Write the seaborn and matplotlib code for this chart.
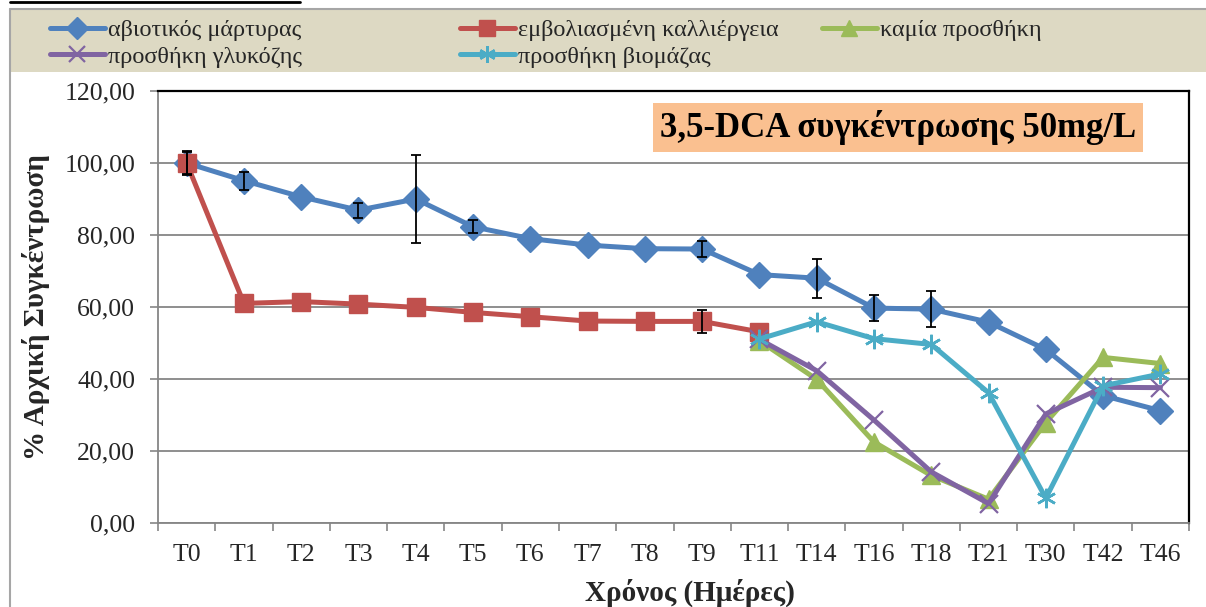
import numpy as np
import pandas as pd
import matplotlib
matplotlib.use("Agg")
import matplotlib.pyplot as plt
import seaborn as sns
from matplotlib.patches import Rectangle
from matplotlib.lines import Line2D
from matplotlib.ticker import FixedLocator, FuncFormatter
from matplotlib.font_manager import FontProperties

# ---- data -------------------------------------------------------------
times = ["T0", "T1", "T2", "T3", "T4", "T5", "T6", "T7", "T8", "T9",
         "T11", "T14", "T16", "T18", "T21", "T30", "T42", "T46"]

abiotic = [100.0, 95.1, 90.6, 86.9, 90.0, 82.3, 79.0, 77.2, 76.2, 76.1,
           69.0, 68.0, 59.7, 59.4, 55.8, 48.2, 35.4, 31.2]
abiotic_err = [3.4, 2.5, 0, 2.1, 12.3, 1.8, 0, 0, 0, 2.3,
               0, 5.4, 3.5, 5.0, 0, 0, 0, 0]

inoculated = [100.0, 61.0, 61.5, 60.8, 59.9, 58.5, 57.3, 56.1, 56.0, 56.0,
              53.1, None, None, None, None, None, None, None]
inoculated_err = [3.0, 0, 0, 0, 0, 0, 0, 0, 0, 3.2,
                  0, 0, 0, 0, 0, 0, 0, 0]

no_addition = [None] * 10 + [50.6, 39.9, 22.5, 13.2, 6.6, 27.9, 46.0, 44.3]
glucose = [None] * 10 + [51.0, 42.3, 28.6, 14.2, 5.4, 30.3, 37.7, 37.6]
biomass = [None] * 10 + [51.1, 55.9, 51.2, 49.6, 36.2, 6.9, 38.1, 41.4]

labels = ["αβιοτικός μάρτυρας", "εμβολιασμένη καλλιέργεια", "καμία προσθήκη",
          "προσθήκη γλυκόζης", "προσθήκη βιομάζας"]
colors = ["#4F81BD", "#C0504D", "#9BBB59", "#8064A2", "#4BACC6"]

# ---- style ------------------------------------------------------------
sns.set_theme(style="white")
serif = ["Liberation Serif", "DejaVu Serif"]
plt.rcParams["font.family"] = serif

W, H = 1206, 607
fig = plt.figure(figsize=(W / 100, H / 100), dpi=100)
ax = fig.add_axes([158 / W, 1 - 523 / H, (1189 - 158) / W, (523 - 91) / H])

pos = np.arange(len(times))
series = [abiotic, inoculated, no_addition, glucose, biomass]
markers = ["D", "s", "^", "x", (6, 2, 0)]
msizes = [13, 13, 13, 13, 14]
medge = [1.0, 1.0, 1.0, 1.6, 1.8]

for vals, col, mk, ms, mew in zip(series, colors, markers, msizes, medge):
    df = pd.DataFrame({"pos": pos, "value": pd.to_numeric(pd.Series(vals), errors="coerce")}).dropna()
    sns.lineplot(data=df, x="pos", y="value", color=col, marker=mk, markersize=ms,
                 markeredgecolor=col, markeredgewidth=mew, linewidth=3.6,
                 sort=False, legend=False, ax=ax, zorder=3)

# error bars of the two reference series
for vals, errs in [(abiotic, abiotic_err), (inoculated, inoculated_err)]:
    idx = [i for i, e in enumerate(errs) if e and vals[i] is not None]
    ax.errorbar([pos[i] for i in idx], [vals[i] for i in idx],
                yerr=[errs[i] for i in idx], fmt="none", ecolor="black",
                elinewidth=1.3, capsize=3.8, capthick=1.3, zorder=5)

# ---- axes -------------------------------------------------------------
ax.set_xlim(-0.5, len(times) - 0.5)
ax.set_ylim(0, 120)
ax.set_yticks(np.arange(0, 121, 20))
ax.yaxis.set_major_formatter(FuncFormatter(lambda v, p: f"{v:.2f}".replace(".", ",")))
ax.set_xticks(pos)
ax.set_xticklabels(times)
ax.xaxis.set_minor_locator(FixedLocator(np.arange(-0.5, len(times), 1.0)))
ax.tick_params(axis="x", which="major", length=0, pad=15, labelsize=18.5)
ax.tick_params(axis="x", which="minor", length=5.5, width=1.2, color="#868686",
               direction="out", bottom=True)
ax.tick_params(axis="y", length=5.8, width=1.2, color="#868686", direction="out",
               left=True, pad=10.5, labelsize=18.5)
ax.grid(axis="y", color="#868686", linewidth=1.3)
ax.set_axisbelow(True)
for s in ["left", "bottom"]:
    ax.spines[s].set_color("#868686")
    ax.spines[s].set_linewidth(1.3)
for s in ["top", "right"]:
    ax.spines[s].set_color("black")
    ax.spines[s].set_linewidth(1.6)
ax.set_xlabel("")
ax.set_ylabel("")

fig.text(898 / W, 1 - 127.5 / H, "3,5-DCA συγκέντρωσης 50mg/L", ha="center", va="center",
         fontsize=25, fontweight="bold", color="black", family=serif,
         bbox=dict(boxstyle="square,pad=0.2", facecolor="#FAC090", edgecolor="none"))

fig.text(36 / W, 1 - 307 / H, "% Αρχική Συγκέντρωση", rotation=90, ha="center", va="center",
         fontsize=21, fontweight="bold", family=serif)
fig.text(690 / W, 1 - 593 / H, "Χρόνος (Ημέρες)", ha="center", va="center",
         fontsize=21, fontweight="bold", family=serif)

# ---- legend band ------------------------------------------------------
fig.patches.append(Rectangle((10 / W, 1 - 72 / H), 1 - 10 / W, 63 / H,
                             transform=fig.transFigure, facecolor="#DDD9C3",
                             edgecolor="none", zorder=0))
fig.lines.append(Line2D([10 / W, 1], [1 - 9 / H, 1 - 9 / H], transform=fig.transFigure,
                        color="#A6A6A6", linewidth=1.5))
fig.lines.append(Line2D([10 / W, 10 / W], [0, 1 - 9 / H], transform=fig.transFigure,
                        color="#A6A6A6", linewidth=1.5))
fig.lines.append(Line2D([10 / W, 300 / W], [1 - 2 / H, 1 - 2 / H], transform=fig.transFigure,
                        color="black", linewidth=2))

handles = [Line2D([], [], color=c, marker=m, markersize=ms * 0.85, markeredgecolor=c,
                  markeredgewidth=mew, linewidth=3.6)
           for c, m, ms, mew in zip(colors, markers, msizes, medge)]

legend_font = FontProperties(family=serif, size=17.5)
columns = [([0, 3], 50), ([1, 4], 460), ([2], 822)]
for idx, x0 in columns:
    fig.legend([handles[i] for i in idx], [labels[i] for i in idx],
               loc="upper left", bbox_to_anchor=(x0 / W, 1 - 19 / H),
               bbox_transform=fig.transFigure, frameon=False, prop=legend_font,
               handlelength=2.25, handletextpad=0.12, labelspacing=0.2,
               borderpad=0, borderaxespad=0)

fig.savefig("out.png", dpi=100)
